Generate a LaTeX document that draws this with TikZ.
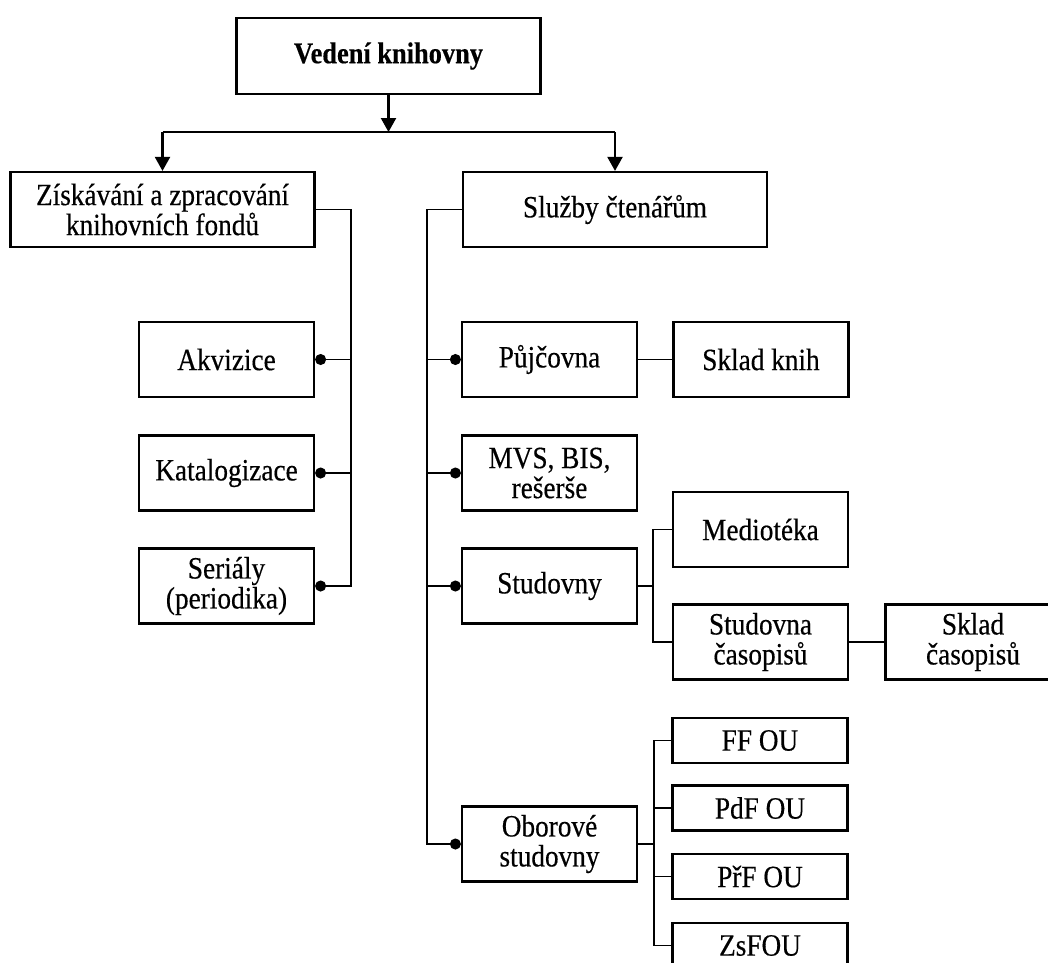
\documentclass[tikz,border=0pt]{standalone}
\usepackage{fontspec}
\setmainfont{Liberation Serif}[FakeStretch=0.88,FakeBold=0.4]
\usetikzlibrary{arrows.meta}
\begin{document}
\begin{tikzpicture}[x=1pt,y=-1pt,
  box/.style={draw, line width=2.2pt, align=center, inner sep=0pt,
    minimum width=175pt, minimum height=75pt,
    font=\fontsize{31}{30}\selectfont},
  wide/.style={box, minimum width=304pt},
  small/.style={box, minimum height=45pt},
  conn/.style={line width=1.2pt},
  dotconn/.style={conn, -{Circle[length=11pt,width=11pt]}},
  arr/.style={line width=2.2pt, -{Triangle[length=14pt,width=15pt]}},
  bus/.style={line width=2.2pt}]
\useasboundingbox (0,0) rectangle (1048,962);
\clip (0,0) rectangle (1048,962);
\fill[white] (0,0) rectangle (1048,962);

% nodes
\node[wide, minimum height=76pt, font=\fontsize{30}{30}\selectfont\bfseries] (top) at (388.5,56) {Vedení knihovny};
\node[wide] (zisk) at (162.5,209.5) {Získávání a zpracování\\knihovních fondů};
\node[wide] (sluz) at (615,209.5) {Služby čtenářům};

\node[box] (akv) at (226.5,359.5) {Akvizice};
\node[box] (kat) at (226.5,473) {Katalogizace};
\node[box] (ser) at (226.5,586) {Seriály\\(periodika)};

\node[box] (puj) at (549.5,359.5) {Půjčovna};
\node[box] (mvs) at (549.5,473) {MVS, BIS,\\rešerše};
\node[box] (stud) at (549.5,586) {Studovny};
\node[box] (obor) at (549.5,844) {Oborové\\studovny};

\node[box] (sklk) at (761,359.5) {Sklad knih};
\node[box] (medio) at (760.5,529.5) {Mediotéka};
\node[box] (stcas) at (760.5,642) {Studovna\\časopisů};
\node[box] (sklc) at (973,642) {Sklad\\časopisů};

\node[small] (ff) at (760,740.5) {FF OU};
\node[small] (pdf) at (760,808) {PdF OU};
\node[small] (prf) at (760,876.5) {PřF OU};
\node[small] (zs) at (760,945.5) {ZsFOU};

% top arrows
\coordinate (hub) at (388.5,132);
\draw[arr] (top.south) -- (hub);
\draw[bus] (zisk.north |- hub) -- (sluz.north |- hub);
\draw[arr] (zisk.north |- hub) -- (zisk.north);
\draw[arr] (sluz.north |- hub) -- (sluz.north);

% left branch
\coordinate (bl) at (351,0);
\draw[dotconn] (zisk.east) -| (bl |- ser.east) -- (ser.east);
\draw[dotconn] (bl |- akv.east) -- (akv.east);
\draw[dotconn] (bl |- kat.east) -- (kat.east);

% right branch
\coordinate (br) at (427,0);
\draw[dotconn] (sluz.west) -| (br |- obor.west) -- (obor.west);
\draw[dotconn] (br |- puj.west) -- (puj.west);
\draw[dotconn] (br |- mvs.west) -- (mvs.west);
\draw[dotconn] (br |- stud.west) -- (stud.west);

\draw[conn] (puj.east) -- (sklk.west);

% studovny
\coordinate (bs) at (653,0);
\draw[conn] (stud.east) -- (bs |- stud.east);
\draw[conn] (medio.west) -| (bs |- stcas.west) -- (stcas.west);
\draw[conn] (stcas.east) -- (sklc.west);

% oborove studovny
\coordinate (bo) at (654,0);
\draw[conn] (obor.east) -- (bo |- obor.east);
\draw[conn] (ff.west) -| (bo |- zs.west) -- (zs.west);
\draw[conn] (bo |- pdf.west) -- (pdf.west);
\draw[conn] (bo |- prf.west) -- (prf.west);
\end{tikzpicture}
\end{document}
